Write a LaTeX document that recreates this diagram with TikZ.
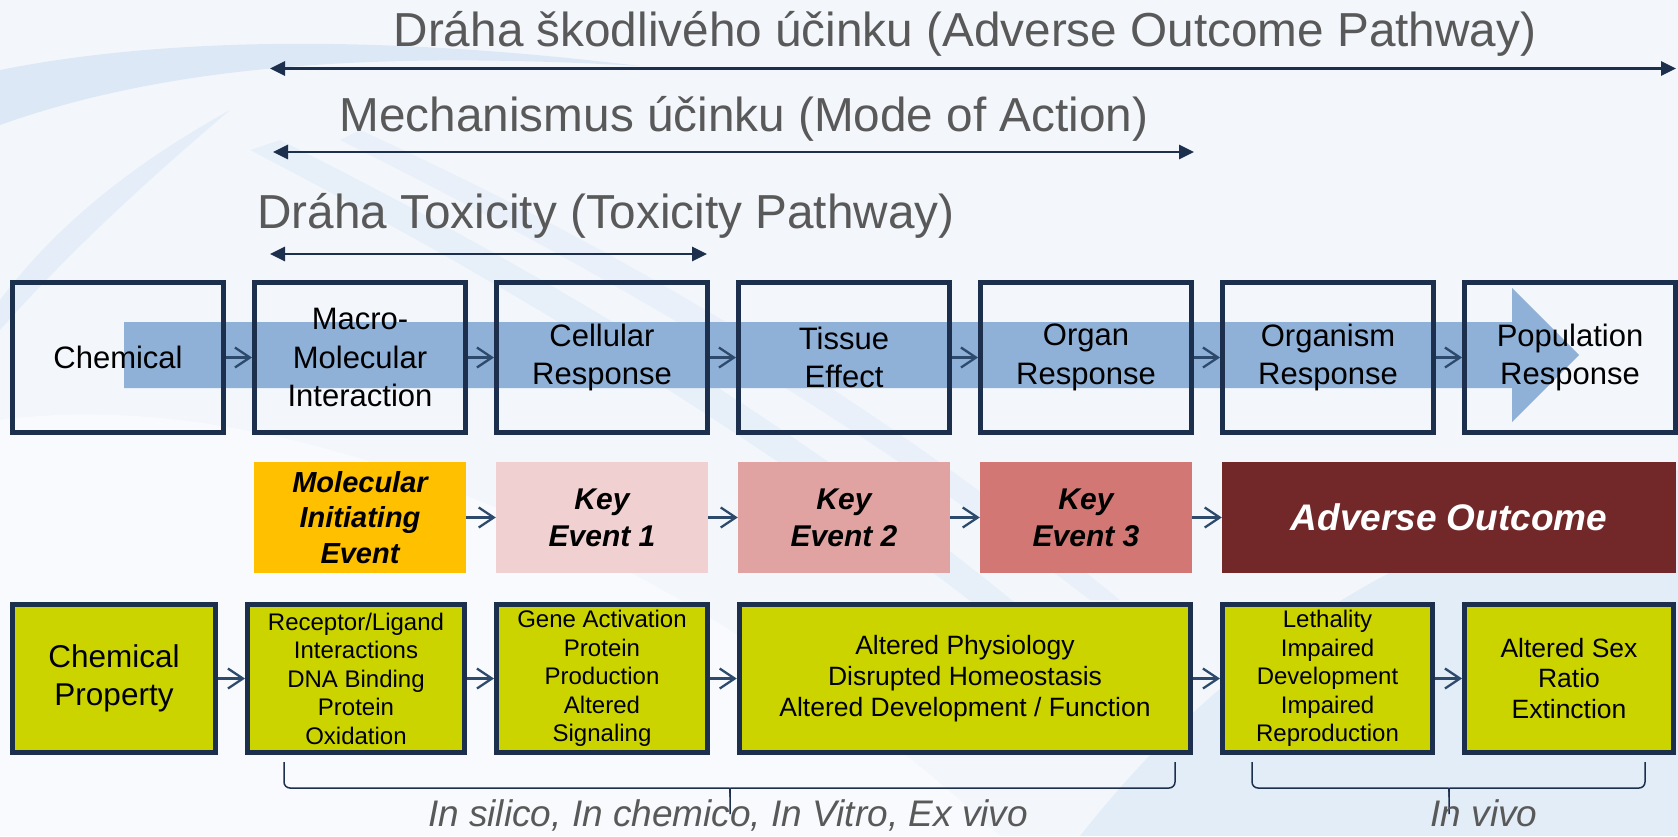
\documentclass[tikz,border=0pt]{standalone}
\usepackage{fontspec}
\setmainfont{Liberation Sans}
\usetikzlibrary{arrows.meta}

\definecolor{navy}{RGB}{28,48,78}
\definecolor{arrowblue}{RGB}{45,74,108}
\definecolor{bandblue}{RGB}{143,176,215}
\definecolor{titlegray}{RGB}{89,89,89}
\definecolor{propgreen}{RGB}{204,212,0}
\definecolor{mieorange}{RGB}{255,192,0}
\definecolor{keyone}{RGB}{241,208,209}
\definecolor{keytwo}{RGB}{224,163,162}
\definecolor{keythree}{RGB}{211,119,116}
\definecolor{aored}{RGB}{114,40,40}
\definecolor{bgblue}{RGB}{243,247,252}
\definecolor{swoosh}{RGB}{205,222,242}

\begin{document}
\begin{tikzpicture}[x=1pt,y=-1pt,
    levelbox/.style={draw=navy,line width=5pt,minimum width=211pt,minimum height=150pt,align=center,inner sep=0pt,font=\fontsize{31}{38.3}\selectfont},
    eventbox/.style={minimum width=212pt,minimum height=111pt,align=center,inner sep=0pt,font=\fontsize{30}{37}\selectfont\bfseries\itshape},
    propbox/.style={draw=navy,fill=propgreen,line width=5pt,minimum height=148.5pt,align=center,inner sep=0pt,font=\fontsize{24}{28.5}\selectfont},
    flow/.style={draw=arrowblue,line width=2.3pt,-{Straight Barb[length=15pt,width=20pt]}},
    spanarrow/.style={draw=navy,line width=2.7pt,{Triangle[length=15pt,width=14pt]}-{Triangle[length=15pt,width=14pt]}},
    titletext/.style={anchor=base,text=titlegray,inner sep=0pt,font=\fontsize{47.7}{56}\selectfont},
    bracepath/.style={draw=navy,line width=1.5pt}]
  \useasboundingbox (0,0) rectangle (1678,836);
  % background and swooshes
  \fill[bgblue] (0,0) rectangle (1678,836);
  \fill[swoosh,opacity=.6] (0,70) .. controls (150,40) and (360,32) .. (640,66) .. controls (360,50) and (160,68) .. (0,125) -- cycle;
  \fill[swoosh,opacity=.35] (0,300) .. controls (60,220) and (140,160) .. (230,110) .. controls (160,170) and (80,240) .. (0,330) -- cycle;
  \fill[swoosh,opacity=.3] (280,140) .. controls (520,260) and (800,420) .. (1060,640) -- (1020,640) .. controls (770,440) and (500,280) .. (250,150) -- cycle;
  \fill[swoosh,opacity=.25] (360,130) .. controls (600,240) and (850,380) .. (1120,600) -- (1090,600) .. controls (830,400) and (580,260) .. (340,140) -- cycle;
  \fill[swoosh,opacity=.4] (1080,836) .. controls (1250,620) and (1450,520) .. (1678,470) -- (1678,836) -- cycle;
  \fill[white,opacity=.45] (0,420) .. controls (300,380) and (700,560) .. (1000,836) -- (0,836) -- cycle;
  % big blue arrow
  \fill[bandblue] (124,322) -- (1512,322) -- (1512,288) -- (1579,355) -- (1512,422) -- (1512,388) -- (124,388) -- cycle;

  % titles with their spans
  \node[titletext] (aop) at (965,46.7) {Dráha škodlivého účinku (Adverse Outcome Pathway)};
  \node[titletext] (moa) at (744,131.7) {Mechanismus účinku (Mode of Action)};
  \node[titletext] (tp) at (606,228.3) {Dráha Toxicity (Toxicity Pathway)};
  \coordinate (aopL) at (270,68.5); \coordinate (aopR) at (1676,68.5);
  \coordinate (moaL) at (273,152); \coordinate (moaR) at (1194,152);
  \coordinate (tpL) at (270,254); \coordinate (tpR) at (707,254);
  \draw[spanarrow] (aopL) -- (aopR);
  \draw[spanarrow] (moaL) -- (moaR);
  \draw[spanarrow] (tpL) -- (tpR);

  % levels of organisation
  \foreach \n/\x/\t in {chem/118/Chemical, macro/360/{Macro-\\Molecular\\Interaction}, cell/602/{Cellular\\Response}, tissue/844/{Tissue\\Effect}, organ/1086/{Organ\\Response}, organism/1328/{Organism\\Response}, pop/1570/{Population\\Response}}
    \node[levelbox] (\n) at (\x,357.5) {\t};
  \foreach \a/\b in {chem/macro, macro/cell, cell/tissue, tissue/organ, organ/organism, organism/pop}
    \draw[flow] (\a) -- (\b);

  % events
  \node[eventbox,fill=mieorange,font=\fontsize{29}{35.5}\selectfont\bfseries\itshape] (mie) at (360,517.5) {Molecular\\Initiating\\Event};
  \node[eventbox,fill=keyone] (ke1) at (602,517.5) {Key\\Event 1};
  \node[eventbox,fill=keytwo] (ke2) at (844,517.5) {Key\\Event 2};
  \node[eventbox,fill=keythree] (ke3) at (1086,517.5) {Key\\Event 3};
  \node[eventbox,fill=aored,minimum width=454pt,text=white,font=\fontsize{37}{44}\selectfont\bfseries\itshape] (ao) at (1449,517.5) {Adverse Outcome};
  \foreach \a/\b in {mie/ke1, ke1/ke2, ke2/ke3, ke3/ao}
    \draw[flow] (\a) -- (\b);

  % examples
  \node[propbox,minimum width=202.5pt,font=\fontsize{31.5}{37.7}\selectfont] (prop) at (114,678.5) {Chemical\\Property};
  \node[propbox,minimum width=217pt] (recep) at (356,678.5) {Receptor/Ligand\\Interactions\\DNA Binding\\Protein\\Oxidation};
  \node[propbox,minimum width=211pt] (gene) at (602,678.5) {Gene Activation\\Protein\\Production\\Altered\\Signaling};
  \node[propbox,minimum width=451.5pt,font=\fontsize{26.5}{30.7}\selectfont] (phys) at (965,678.5) {Altered Physiology\\Disrupted Homeostasis\\Altered Development / Function};
  \node[propbox,minimum width=210pt] (leth) at (1327.5,678.5) {Lethality\\Impaired\\Development\\Impaired\\Reproduction};
  \node[propbox,minimum width=209pt,font=\fontsize{26.5}{30.7}\selectfont] (sex) at (1569,678.5) {Altered Sex\\Ratio\\Extinction};
  \foreach \a/\b in {prop/recep, recep/gene, gene/phys, phys/leth, leth/sex}
    \draw[flow] (\a) -- (\b);

  % braces
  \draw[bracepath] (284,762) [rounded corners=6pt] -- (284,788) -- (723,788) [sharp corners] .. controls (730,788) .. (730,797) -- (730,814);
  \draw[bracepath] (1175,762) [rounded corners=6pt] -- (1175,788) -- (737,788) [sharp corners] .. controls (730,788) .. (730,797);
  \draw[bracepath] (1252,762) [rounded corners=6pt] -- (1252,788) -- (1442,788) [sharp corners] .. controls (1449,788) .. (1449,797) -- (1449,814);
  \draw[bracepath] (1645,762) [rounded corners=6pt] -- (1645,788) -- (1456,788) [sharp corners] .. controls (1449,788) .. (1449,797);
  \node[anchor=base,text=titlegray,inner sep=0pt,font=\fontsize{37}{44}\selectfont\itshape] (vitro) at (728,826) {In silico, In chemico, In Vitro, Ex vivo};
  \node[anchor=base,text=titlegray,inner sep=0pt,font=\fontsize{37}{44}\selectfont\itshape] (vivo) at (1484,826) {In vivo};
\end{tikzpicture}
\end{document}
